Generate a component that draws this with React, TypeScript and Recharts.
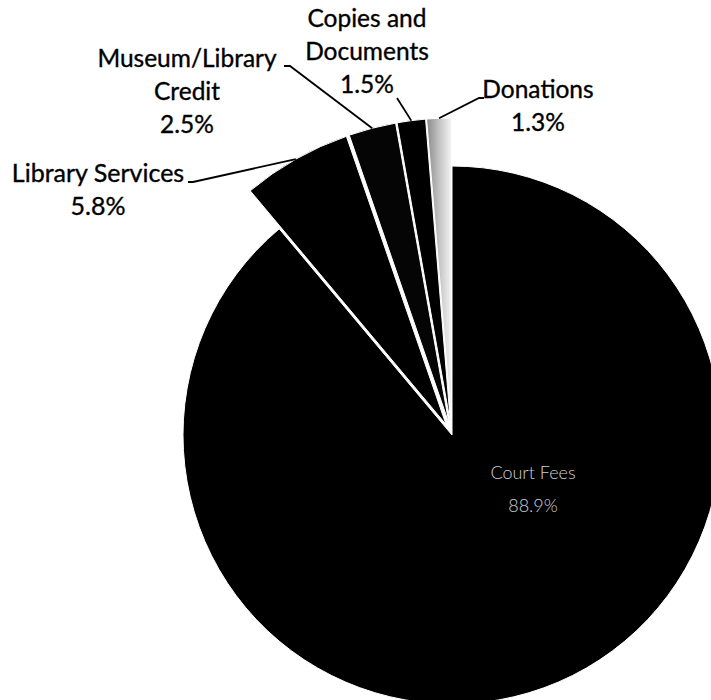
import React from 'react';
import { PieChart, Pie, Cell, Sector } from 'recharts';

// ---- data ----
const categories = ['Court Fees', 'Library Services', 'Museum/Library Credit', 'Copies and Documents', 'Donations'];
const shares = [88.9, 5.8, 2.5, 1.5, 1.3];
const nameLines = [['Court Fees'], ['Library Services'], ['Museum/Library', 'Credit'], ['Copies and', 'Documents'], ['Donations']];
const pctLabels = ['88.9%', '5.8%', '2.5%', '1.5%', '1.3%'];
const explodedFlags = [false, true, true, true, true];

const data = categories.map((name, i) => ({
  name,
  value: shares[i],
  lines: nameLines[i],
  pct: pctLabels[i],
  exploded: explodedFlags[i],
}));

// ---- styles / layout ----
const COLORS = ['#000000', '#000000', '#050505', '#000000', 'url(#donGrad)'];
const EXPLODE = 12;
const EXTRA_R = 36;
const RAD = Math.PI / 180;
const FONT = 'Lato, "Open Sans", sans-serif';

type Layout = {
  x: number;
  y: number;
  color: string;
  size: number;
  weight: number;
  lh: number;
  leader?: [number, number][];
};

const LABEL_LAYOUT: Record<string, Layout> = {
  'Court Fees': { x: 533, y: 479, color: '#d0d0d0', size: 18, weight: 300, lh: 33 },
  'Library Services': { x: 98, y: 182, color: '#000', size: 25, weight: 400, lh: 33, leader: [[193, 182], [188, 182]] },
  'Museum/Library Credit': { x: 187, y: 67, color: '#000', size: 24.5, weight: 400, lh: 33, leader: [[290, 66], [284, 66]] },
  'Copies and Documents': { x: 367, y: 27, color: '#000', size: 24.5, weight: 400, lh: 33, leader: [[397, 98]] },
  'Donations': { x: 538, y: 98, color: '#000', size: 24.5, weight: 400, lh: 33, leader: [[479, 98], [484, 98]] },
};

const geom = (cx: number, cy: number, midAngle: number, outerRadius: number, exploded: boolean) => {
  const off = exploded ? EXPLODE : 0;
  const r = exploded ? outerRadius + EXTRA_R : outerRadius;
  return {
    cx: cx + off * Math.cos(-midAngle * RAD),
    cy: cy + off * Math.sin(-midAngle * RAD),
    r,
  };
};

const renderSlice = (props: any) => {
  const isExp = !!(props.exploded ?? props.payload?.exploded);
  const g = geom(props.cx, props.cy, props.midAngle, props.outerRadius, isExp);
  return (
    <Sector
      cx={g.cx}
      cy={g.cy}
      innerRadius={props.innerRadius}
      outerRadius={g.r}
      startAngle={props.startAngle}
      endAngle={props.endAngle}
      fill={props.fill}
      stroke={props.stroke}
      strokeWidth={props.strokeWidth}
    />
  );
};

const renderLabel = (props: any) => {
  const { cx, cy, midAngle, outerRadius } = props;
  const name = props.name ?? props.payload?.name;
  const entry = data.find((d) => d.name === name);
  const lay = LABEL_LAYOUT[name];
  if (!entry || !lay) return null;
  const g = geom(cx, cy, midAngle, outerRadius, entry.exploded);
  const ex = g.cx + g.r * Math.cos(-midAngle * RAD);
  const ey = g.cy + g.r * Math.sin(-midAngle * RAD);
  const lines = [...entry.lines, entry.pct];
  return (
    <g>
      {lay.leader && (
        <polyline
          points={[[ex, ey], ...lay.leader].map((p) => p.join(',')).join(' ')}
          fill="none"
          stroke="#000"
          strokeWidth={1.8}
        />
      )}
      <text
        x={lay.x}
        y={lay.y}
        textAnchor="middle"
        fill={lay.color}
        stroke={lay.color === '#000' ? '#000' : 'none'}
        strokeWidth={lay.color === '#000' ? 0.35 : 0}
        fontFamily={FONT}
        fontSize={lay.size}
        fontWeight={lay.weight}
      >
        {lines.map((t, i) => (
          <tspan key={i} x={lay.x} dy={i === 0 ? 0 : lay.lh}>
            {t}
          </tspan>
        ))}
      </text>
    </g>
  );
};

export default function App() {
  return (
    <div style={{ position: 'absolute', left: 0, top: 0, background: '#fff' }}>
      <PieChart width={711} height={700}>
        <defs>
          <linearGradient id="donGrad" x1="0" y1="0" x2="1" y2="0">
            <stop offset="0%" stopColor="#8a8a8a" />
            <stop offset="55%" stopColor="#c8c8c8" />
            <stop offset="100%" stopColor="#f4f4f4" />
          </linearGradient>
        </defs>
        <Pie
          data={data}
          dataKey="value"
          nameKey="name"
          cx={447}
          cy={430}
          outerRadius={269}
          startAngle={90}
          endAngle={-270}
          stroke="#fff"
          strokeWidth={1}
          shape={renderSlice}
          inactiveShape={renderSlice}
          activeShape={renderSlice}
          label={renderLabel}
          labelLine={false}
          isAnimationActive={false}
        >
          {data.map((d, i) => (
            <Cell key={d.name} fill={COLORS[i]} />
          ))}
        </Pie>
      </PieChart>
    </div>
  );
}
